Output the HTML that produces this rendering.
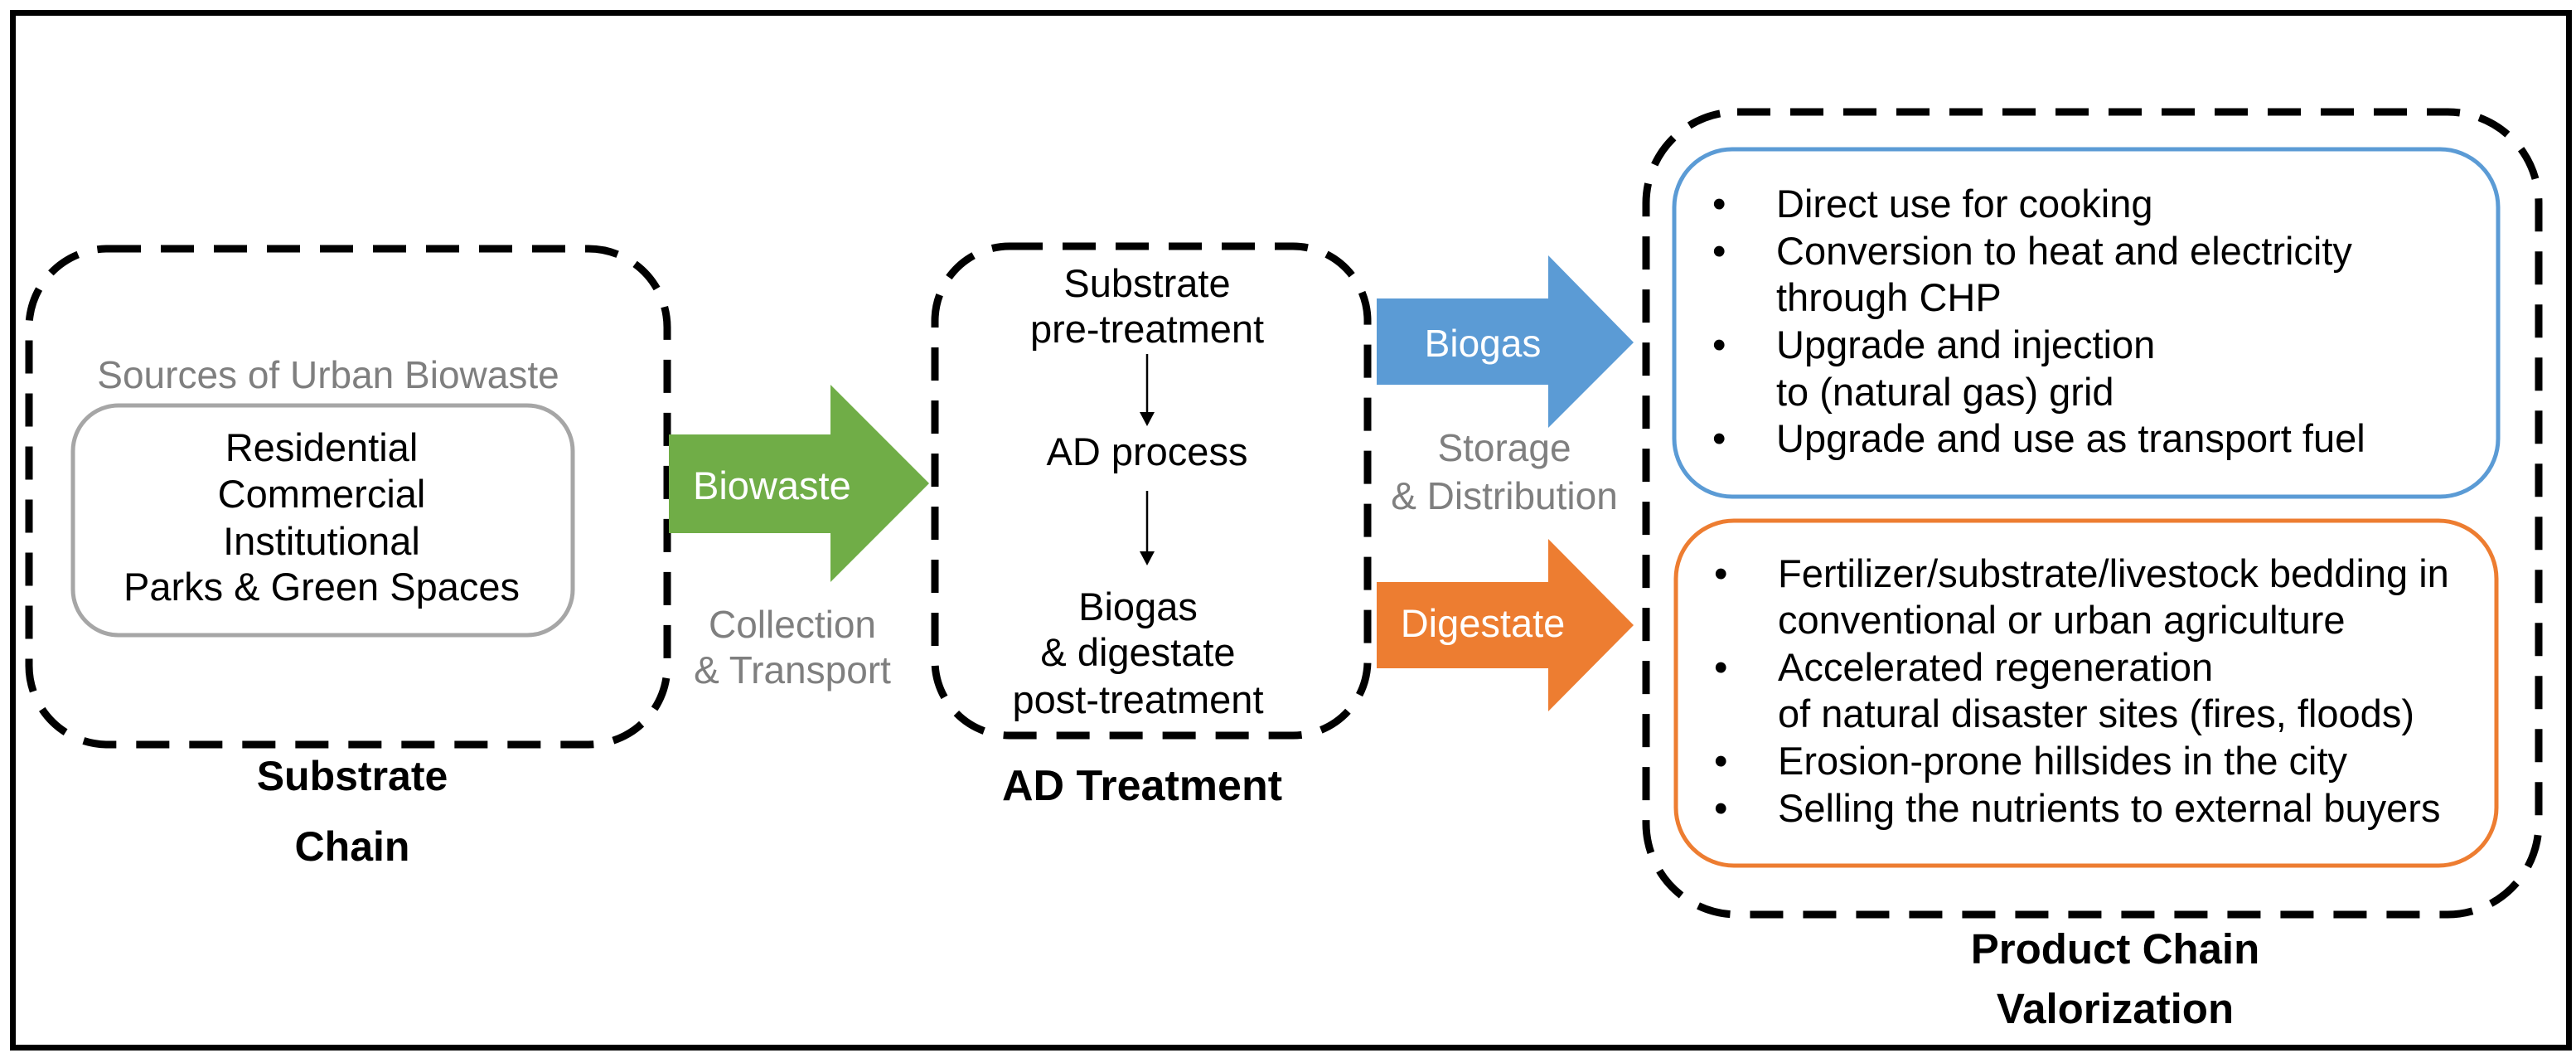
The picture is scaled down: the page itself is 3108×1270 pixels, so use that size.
<!DOCTYPE html>
<html><head><meta charset="utf-8"><style>
html,body{margin:0;padding:0;background:#fff;}
svg{display:block;}
text{font-family:"Liberation Sans",Arial,sans-serif;}
</style></head><body>
<svg width="3108" height="1270" viewBox="0 0 3108 1270" xmlns="http://www.w3.org/2000/svg">
<rect x="15.5" y="15.5" width="3084" height="1248" fill="none" stroke="#000" stroke-width="7"/>

<!-- Substrate chain -->
<rect x="35" y="300" width="770" height="598" rx="95" fill="none" stroke="#000" stroke-width="9" stroke-dasharray="40 24"/>
<text x="396" y="468" font-size="46" fill="#7f7f7f" text-anchor="middle">Sources of Urban Biowaste</text>
<rect x="88" y="489" width="603" height="277" rx="55" fill="none" stroke="#a6a6a6" stroke-width="5"/>
<g font-size="47" fill="#000" text-anchor="middle">
<text x="388" y="556">Residential</text>
<text x="388" y="612">Commercial</text>
<text x="388" y="669">Institutional</text>
<text x="388" y="724">Parks &amp; Green Spaces</text>
</g>
<g font-weight="bold" font-size="50" text-anchor="middle" fill="#000">
<text x="425" y="953">Substrate</text>
<text x="425" y="1038">Chain</text>
</g>

<!-- green arrow -->
<polygon points="807,524 1002,524 1002,464 1121,583 1002,702 1002,643 807,643" fill="#70ad47"/>
<text x="836" y="602" font-size="47" fill="#fff">Biowaste</text>
<g font-size="46" fill="#7f7f7f" text-anchor="middle">
<text x="956" y="769">Collection</text>
<text x="956" y="824">&amp; Transport</text>
</g>

<!-- AD box -->
<rect x="1128" y="297" width="522" height="590" rx="90" fill="none" stroke="#000" stroke-width="9" stroke-dasharray="40 24"/>
<g font-size="47" fill="#000" text-anchor="middle">
<text x="1384" y="358">Substrate</text>
<text x="1384" y="413">pre-treatment</text>
<text x="1384" y="561">AD process</text>
<text x="1373" y="748">Biogas</text>
<text x="1373" y="803">&amp; digestate</text>
<text x="1373" y="860">post-treatment</text>
</g>
<line x1="1384" y1="427" x2="1384" y2="500" stroke="#000" stroke-width="2.5"/>
<polygon points="1375,497 1393,497 1384,514" fill="#000"/>
<line x1="1384" y1="592" x2="1384" y2="668" stroke="#000" stroke-width="2.5"/>
<polygon points="1375,665 1393,665 1384,682" fill="#000"/>
<text x="1378" y="965" font-weight="bold" font-size="52" text-anchor="middle">AD Treatment</text>

<!-- blue arrow -->
<polygon points="1661,360 1868,360 1868,308 1971,413 1868,516 1868,464 1661,464" fill="#5b9bd5"/>
<text x="1789" y="430" font-size="46" fill="#fff" text-anchor="middle">Biogas</text>
<g font-size="46" fill="#7f7f7f" text-anchor="middle">
<text x="1815" y="556">Storage</text>
<text x="1815" y="614">&amp; Distribution</text>
</g>
<!-- orange arrow -->
<polygon points="1661,702 1868,702 1868,650 1971,754 1868,858 1868,806 1661,806" fill="#ed7d31"/>
<text x="1789" y="768" font-size="47" fill="#fff" text-anchor="middle">Digestate</text>

<!-- product box -->
<rect x="1986" y="135" width="1077" height="968" rx="110" fill="none" stroke="#000" stroke-width="9" stroke-dasharray="40 24"/>
<rect x="2020" y="180" width="994" height="419" rx="70" fill="none" stroke="#5b9bd5" stroke-width="5"/>
<rect x="2022" y="628" width="990" height="416" rx="70" fill="none" stroke="#ed7d31" stroke-width="5"/>
<g font-size="47" fill="#000">
<text x="2066" y="262">•</text><text x="2143" y="262">Direct use for cooking</text>
<text x="2066" y="319">•</text><text x="2143" y="319">Conversion to heat and electricity</text>
<text x="2143" y="375">through CHP</text>
<text x="2066" y="432">•</text><text x="2143" y="432">Upgrade and injection</text>
<text x="2143" y="489">to (natural gas) grid</text>
<text x="2066" y="545">•</text><text x="2143" y="545">Upgrade and use as transport fuel</text>

<text x="2068" y="708">•</text><text x="2145" y="708">Fertilizer/substrate/livestock bedding in</text>
<text x="2145" y="764">conventional or urban agriculture</text>
<text x="2068" y="821">•</text><text x="2145" y="821">Accelerated regeneration</text>
<text x="2145" y="877">of natural disaster sites (fires, floods)</text>
<text x="2068" y="934">•</text><text x="2145" y="934">Erosion-prone hillsides in the city</text>
<text x="2068" y="991">•</text><text x="2145" y="991">Selling the nutrients to external buyers</text>
</g>
<g font-weight="bold" font-size="51" text-anchor="middle" fill="#000">
<text x="2552" y="1162">Product Chain</text>
<text x="2552" y="1234">Valorization</text>
</g>
</svg>
</body></html>
